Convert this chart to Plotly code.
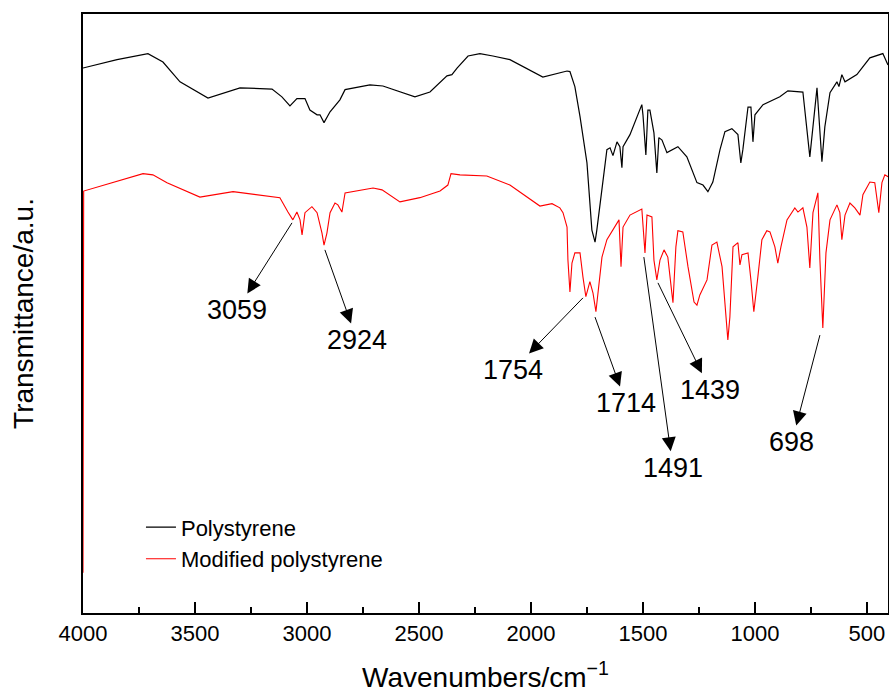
import plotly.graph_objects as go

# ---------------- data ----------------
wn_ps = [4000, 3848, 3710, 3643, 3567, 3442, 3299, 3156, 3112, 3076, 3045, 3009, 2987, 2955,
         2942, 2924, 2897, 2853, 2830, 2719, 2661, 2518, 2451, 2375, 2353, 2330, 2281, 2228,
         2170, 2094, 1947, 1839, 1826, 1804, 1781, 1750, 1728, 1714, 1706, 1683, 1661, 1647,
         1634, 1616, 1603, 1594, 1589, 1558, 1527, 1505, 1500, 1487, 1478, 1469, 1451, 1438,
         1429, 1415, 1393, 1344, 1304, 1259, 1232, 1210, 1188, 1156, 1134, 1103, 1076, 1063,
         1054, 1031, 1018, 1009, 1000, 964, 889, 853, 786, 755, 723, 701, 688, 665, 634, 625,
         612, 598, 545, 487, 429, 406]
t_ps = [90.8, 92.2, 93.2, 91.8, 88.5, 85.8, 87.5, 87.3, 86.0, 84.5, 85.7, 85.7, 83.8, 83.0,
        83.0, 81.7, 83.5, 85.5, 87.2, 88.0, 87.8, 86.0, 86.8, 89.5, 89.7, 90.8, 92.8, 93.2,
        92.8, 92.2, 89.3, 90.3, 90.2, 87.7, 82.7, 75.0, 63.8, 61.8, 63.8, 70.5, 77.2, 77.5,
        76.2, 78.5, 77.7, 74.2, 77.7, 79.7, 82.5, 84.7, 83.0, 76.3, 83.8, 83.8, 80.0, 73.3,
        79.2, 78.8, 76.7, 77.7, 76.0, 71.7, 71.3, 70.2, 71.8, 77.2, 80.2, 80.7, 79.7, 75.0,
        77.2, 84.3, 84.3, 78.5, 83.0, 84.7, 86.0, 87.0, 86.8, 76.0, 87.5, 75.2, 81.0, 86.7, 88.5, 87.7,
        89.7, 88.5, 89.7, 92.5, 93.2, 91.3]

wn_mps = [4000, 3997, 3732, 3688, 3625, 3478, 3330, 3121, 3085, 3063, 3045, 3031, 3022, 3009,
          2978, 2955, 2933, 2924, 2911, 2897, 2875, 2862, 2844, 2830, 2705, 2665, 2585, 2496,
          2406, 2371, 2357, 2317, 2197, 2094, 1960, 1906, 1871, 1857, 1839, 1835, 1826, 1817,
          1804, 1781, 1768, 1755, 1737, 1723, 1710, 1701, 1683, 1661, 1625, 1607, 1598, 1589,
          1558, 1505, 1491, 1482, 1460, 1451, 1438, 1424, 1406, 1389, 1371, 1366, 1353, 1344,
          1322, 1299, 1272, 1259, 1246, 1223, 1214, 1192, 1170, 1147, 1130, 1121, 1112, 1098,
          1076, 1067, 1058, 1031, 1018, 1005, 987, 969, 947, 933, 911, 898, 884, 857, 822, 808,
          786, 768, 755, 741, 719, 710, 697, 683, 665, 634, 621, 612, 598, 576, 554, 531, 518,
          487, 465, 447, 433, 420, 406]
t_mps = [6.7, 70.3, 73.2, 73.0, 71.7, 69.3, 70.2, 69.2, 66.8, 65.5, 66.8, 65.5, 63.0, 66.7,
         67.7, 66.7, 63.3, 61.3, 63.3, 66.7, 68.3, 68.0, 66.8, 70.0, 70.8, 70.5, 68.5, 69.2,
         70.3, 71.3, 73.2, 73.0, 72.8, 71.3, 67.8, 68.2, 67.5, 66.7, 64.3, 58.8, 53.5, 58.3,
         60.0, 60.0, 56.0, 52.7, 55.2, 53.3, 50.2, 53.3, 59.3, 62.2, 64.3, 65.5, 57.7, 64.3,
         66.3, 67.3, 60.0, 66.3, 66.0, 58.8, 55.5, 58.8, 60.5, 59.3, 53.3, 51.7, 61.0, 63.7,
         63.5, 57.7, 51.8, 51.3, 53.0, 55.0, 55.5, 61.3, 61.8, 57.7, 49.3, 45.5, 49.3, 61.0,
         61.7, 58.0, 59.7, 60.0, 55.5, 50.2, 56.0, 62.2, 63.7, 63.5, 61.0, 58.3, 61.0, 65.5, 67.5, 66.8,
         67.5, 64.3, 57.5, 66.7, 70.0, 58.8, 47.5, 60.0, 65.5, 68.0, 66.7, 62.2, 66.3, 68.3, 67.5, 66.3, 69.7,
         71.8, 71.7, 66.7, 71.7, 73.0, 72.7]

series_names = ["Polystyrene", "Modified polystyrene"]
peak_labels = ["3059", "2924", "1754", "1714", "1491", "1439", "698"]
x_ticks = [4000, 3500, 3000, 2500, 2000, 1500, 1000, 500]

FONT = "Arial, Liberation Sans, sans-serif"

fig = go.Figure()
fig.add_trace(go.Scatter(x=wn_ps, y=t_ps, mode="lines", name=series_names[0],
                         line=dict(color="black", width=1.2)))
fig.add_trace(go.Scatter(x=wn_mps, y=t_mps, mode="lines", name=series_names[1],
                         line=dict(color="red", width=1.1)))

# arrows: (label, tail_x, tail_y on the curve, text_x, text_y)
arrows = [
    (peak_labels[0], 3067, 65.0, 3313, 50.5),
    (peak_labels[1], 2920, 60.5, 2777, 45.5),
    (peak_labels[2], 1768, 52.5, 2080, 40.5),
    (peak_labels[3], 1714, 49.3, 1576, 35.0),
    (peak_labels[4], 1496, 59.3, 1366, 24.2),
    (peak_labels[5], 1433, 55.0, 1201, 37.2),
    (peak_labels[6], 710, 46.3, 835, 28.5),
]
annotations = []
for lab, tx, ty, lx, ly in arrows:
    annotations.append(dict(x=tx, y=ty, ax=lx, ay=ly, xref="x", yref="y", axref="x", ayref="y",
                            text=lab, showarrow=True, arrowside="start", startarrowhead=2,
                            startarrowsize=2.8, arrowwidth=1.0, arrowcolor="black",
                            startstandoff=0, standoff=0,
                            font=dict(family=FONT, size=27, color="black")))

fig.update_layout(
    width=889, height=695,
    margin=dict(l=83, r=1, t=14, b=82),
    paper_bgcolor="white", plot_bgcolor="white",
    font=dict(family=FONT, color="black"),
    showlegend=True,
    legend=dict(x=0.072, y=0.178, xanchor="left", yanchor="top",
                font=dict(family=FONT, size=22, color="black"),
                bgcolor="rgba(0,0,0,0)", tracegroupgap=0),
    annotations=annotations,
    xaxis=dict(range=[4000, 406], tickvals=x_ticks, ticktext=[str(v) for v in x_ticks],
               ticks="inside", ticklen=11, tickwidth=2, tickcolor="black",
               minor=dict(ticks="inside", ticklen=6, tickwidth=2, dtick=250, tickcolor="black"),
               showline=True, linewidth=2, linecolor="black", mirror=True,
               showgrid=False, zeroline=False, automargin=False,
               tickfont=dict(family=FONT, size=22, color="black"),
               title=dict(text="Wavenumbers/cm<sup>\u22121</sup>",
                          font=dict(family=FONT, size=28, color="black"), standoff=22)),
    yaxis=dict(range=[0, 99.8], showticklabels=False, ticks="",
               showline=True, linewidth=2, linecolor="black", mirror=True,
               showgrid=False, zeroline=False, layer="below traces", automargin=False,
               title=dict(text="Transmittance/a.u.",
                          font=dict(family=FONT, size=28, color="black"), standoff=39)),
)

fig.write_html("out.html", config={"displayModeBar": False},
               post_script="document.body.style.margin='0';document.body.style.padding='0';")
